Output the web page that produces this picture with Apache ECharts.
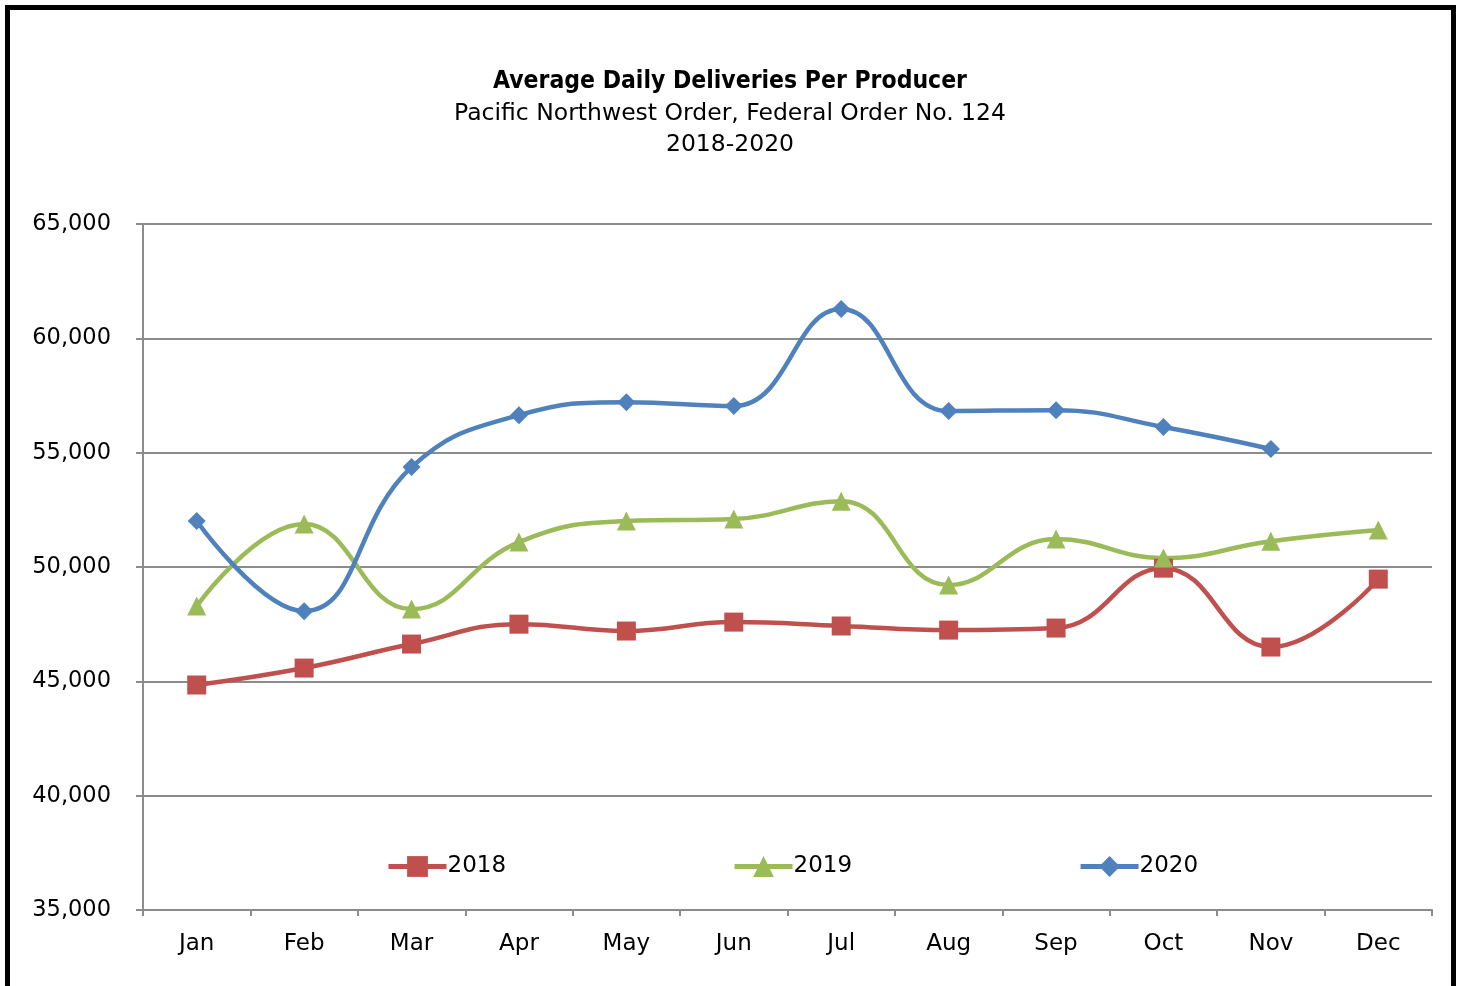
<!DOCTYPE html>
<html>
<head>
<meta charset="utf-8">
<script src="https://cdn.jsdelivr.net/npm/echarts@6/dist/echarts.min.js"></script>
<style>
html,body{margin:0;padding:0;background:#fff;}
#frame{position:absolute;left:5px;top:5px;width:1441px;height:1000px;border:5px solid #000;}
#chart{position:absolute;left:0;top:0;width:1460px;height:986px;}
</style>
</head>
<body>
<div id="frame"></div>
<div id="chart"></div>
<script>
var months = ['Jan','Feb','Mar','Apr','May','Jun','Jul','Aug','Sep','Oct','Nov','Dec'];
var s2018 = [44840, 45580, 46630, 47500, 47200, 47590, 47420, 47240, 47330, 49950, 46500, 49470];
var s2019 = [48290, 51880, 48160, 51090, 52010, 52100, 52880, 49210, 51220, 50390, 51130, 51620];
var s2020 = [52010, 48070, 54370, 56640, 57210, 57040, 61280, 56820, 56860, 56120, 55160, null];
var yMin = 35000, yMax = 65000, yStep = 5000;

var FONTB = '"DejaVu Sans Condensed", Tahoma, "DejaVu Sans", sans-serif';
var FONT = '"DejaVu Sans", Tahoma, sans-serif';
var chart = echarts.init(document.getElementById('chart'));
function mkSeries(name, data, color, symbol, size){
  return {
    name: name, type: 'line', data: data, smooth: 0.45,
    symbol: symbol, symbolSize: size, showSymbol: true,
    lineStyle: {color: color, width: 4.5},
    itemStyle: {color: color},
    connectNulls: false
  };
}
chart.setOption({
  animation: false,
  textStyle: {fontFamily: FONT},
  title: {
    text: 'Average Daily Deliveries Per Producer',
    subtext: 'Pacific Northwest Order, Federal Order No. 124\n2018-2020',
    left: 'center', top: 61, itemGap: 1,
    textStyle: {fontFamily: FONTB, fontSize: 24.5, fontWeight: 'bold', color: '#000', lineHeight: 31},
    subtextStyle: {fontFamily: FONT, fontSize: 23.5, color: '#000', lineHeight: 31}
  },
  legend: {
    left: 381, top: 850, itemGap: 226, itemWidth: 58, itemHeight: 26,
    textStyle: {fontFamily: FONT, fontSize: 23, color: '#000', padding: [0,0,0,-4]},
    lineStyle: {width: 5},
    data: ['2018','2019','2020']
  },
  grid: {left: 143, right: 28, top: 224, bottom: 76},
  xAxis: {
    type: 'category', data: months, boundaryGap: true,
    axisLine: {lineStyle: {color: '#8c8c8c', width: 2}},
    axisTick: {show: true, length: 6, lineStyle: {color: '#8c8c8c', width: 2}},
    axisLabel: {color: '#000', fontSize: 23, fontFamily: FONT, margin: 23},
    splitLine: {show: false}
  },
  yAxis: {
    type: 'value', min: yMin, max: yMax, interval: yStep,
    axisLine: {show: true, lineStyle: {color: '#8c8c8c', width: 2}},
    axisTick: {show: true, length: 7, inside: false, lineStyle: {color: '#8c8c8c', width: 2}},
    axisLabel: {color: '#000', fontSize: 22.5, fontFamily: FONT, margin: 32,
      formatter: function(v){ return v.toLocaleString('en-US'); }},
    splitLine: {show: true, lineStyle: {color: '#8c8c8c', width: 2}}
  },
  series: [
    mkSeries('2018', s2018, '#C0504D', 'rect', 19),
    mkSeries('2019', s2019, '#9BBB59', 'triangle', 19),
    mkSeries('2020', s2020, '#4F81BD', 'diamond', 18)
  ]
});
</script>
</body>
</html>
